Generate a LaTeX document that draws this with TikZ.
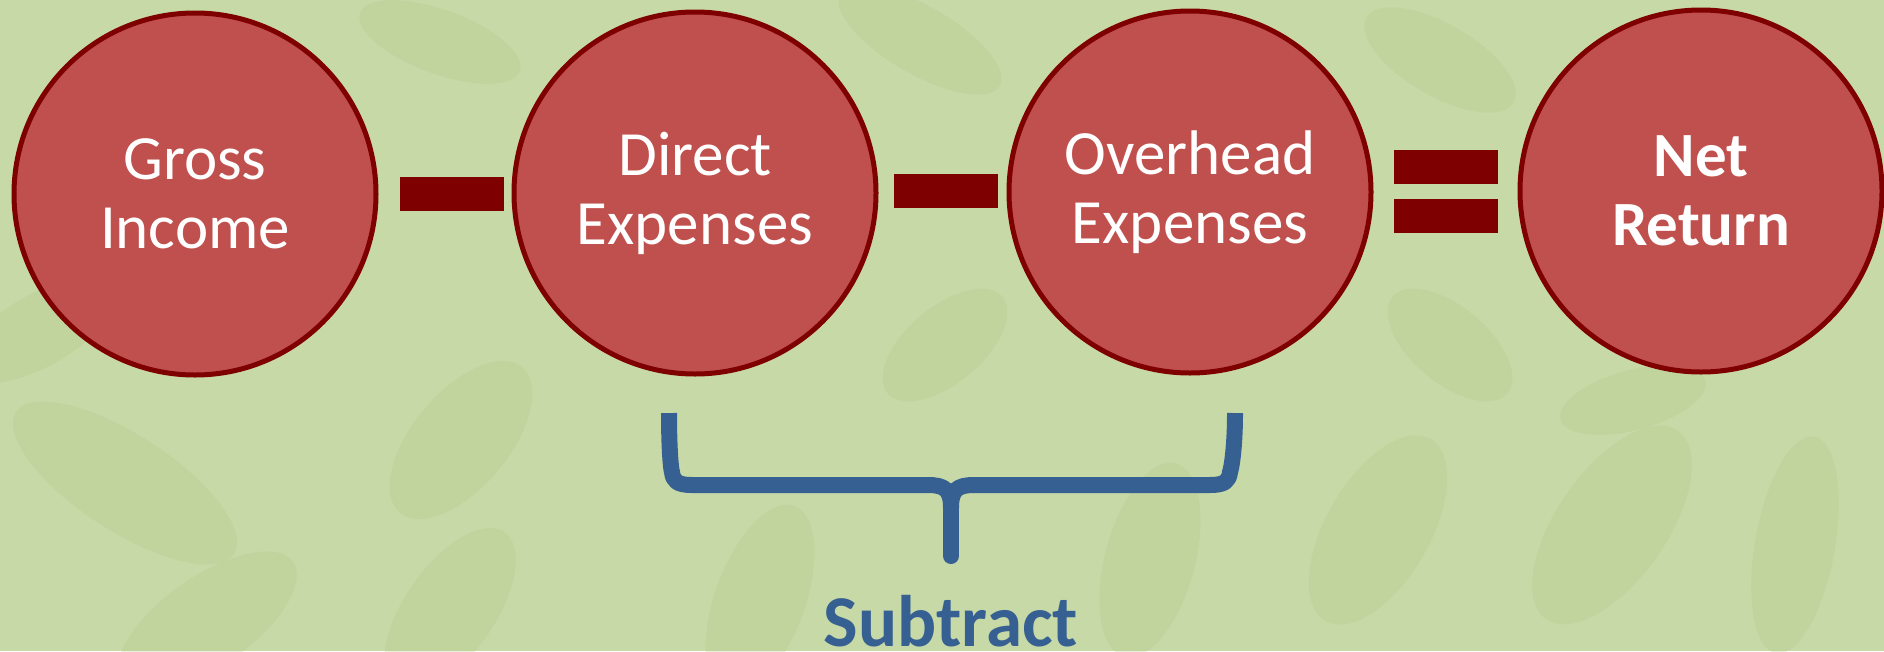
\documentclass[tikz,border=0pt]{standalone}
\usepackage{fontspec}
\setmainfont{Carlito}
\definecolor{bgreen}{HTML}{C7D9A7}
\definecolor{leafgreen}{HTML}{B2C88A}
\definecolor{ballred}{HTML}{C0504D}
\definecolor{darkred}{HTML}{7F0000}
\definecolor{braceblue}{HTML}{376092}
\tikzset{
  ball/.style={circle, draw=darkred, fill=ballred, line width=5pt,
    minimum size=362pt, inner sep=0pt, text=white, align=center,
    font=\fontsize{63}{69}\selectfont},
  opbar/.style={fill=darkred, draw=none, minimum width=104pt,
    minimum height=34pt, inner sep=0pt},
  bracepath/.style={draw=braceblue, line width=16pt, line join=round},
  leaffill/.style={fill=leafgreen, fill opacity=0.28}
}
% a faint leaf in the backdrop: centre x, centre y, angle, half length, half width
\newcommand\leafat[5]{%
  \fill[leaffill] (#1,#2) ellipse [x radius=#4, y radius=#5, rotate=#3];}
\begin{document}
\begin{tikzpicture}[x=1pt, y=-1pt]
  % page and background
  \useasboundingbox (0,0) rectangle (1884,651);
  \fill[bgreen] (0,0) rectangle (1884,651);
  \leafat{125}{483}{-33}{130}{48}
  \leafat{461}{440}{50}{95}{48}
  \leafat{207}{622}{35}{105}{45}
  \leafat{450}{610}{55}{95}{45}
  \leafat{1378}{530}{60}{105}{52}
  \leafat{1612}{525}{55}{115}{55}
  \leafat{1795}{545}{80}{110}{40}
  \leafat{1633}{400}{15}{75}{30}
  \leafat{945}{345}{40}{75}{38}
  \leafat{1450}{345}{-40}{75}{38}
  \leafat{440}{42}{-20}{85}{32}
  \leafat{1440}{60}{-30}{85}{36}
  \leafat{760}{600}{70}{100}{45}
  \leafat{1150}{560}{75}{100}{45}
  \leafat{920}{40}{-30}{92}{34}
  \leafat{40}{330}{30}{85}{36}

  % the four terms of the equation
  \node[ball] (gross) at (195,194) {Gross\\Income};
  \node[ball] (direct) at (695,193) {Direct\\Expenses};
  \node[ball] (overhead) at (1190,192) {Overhead\\Expenses};
  \node[ball, font=\fontsize{63}{69}\selectfont\bfseries] (net) at (1701,191) {Net\\Return};

  % operators
  \node[opbar] (minusA) at (452,194) {};
  \node[opbar] (minusB) at (946,191) {};
  \node[opbar] (eqtop) at (1446,166.5) {};
  \node[opbar] (eqbot) at (1446,215.5) {};

  % brace grouping the two expense terms
  \coordinate (bl) at (669,413);
  \coordinate (br) at (1235,413);
  \coordinate (bt) at (951,556);
  \draw[bracepath, line cap=butt] (bl) .. controls (669,450) and (671,470) .. (672,472)
    .. controls (673,481) and (677,485) .. (692,485) -- (928,485)
    .. controls (945,485) and (951,490) .. (951,508);
  \draw[bracepath, line cap=butt] (br) .. controls (1235,450) and (1231,470) .. (1230,472)
    .. controls (1229,481) and (1225,485) .. (1210,485) -- (974,485)
    .. controls (957,485) and (951,490) .. (951,508);
  \draw[bracepath, line cap=round] (951,506) -- (bt);

  \node[text=braceblue, font=\fontsize{73}{80}\selectfont\bfseries,
        anchor=base, inner sep=0pt] (subtract) at (951,646) {Subtract};
\end{tikzpicture}
\end{document}
